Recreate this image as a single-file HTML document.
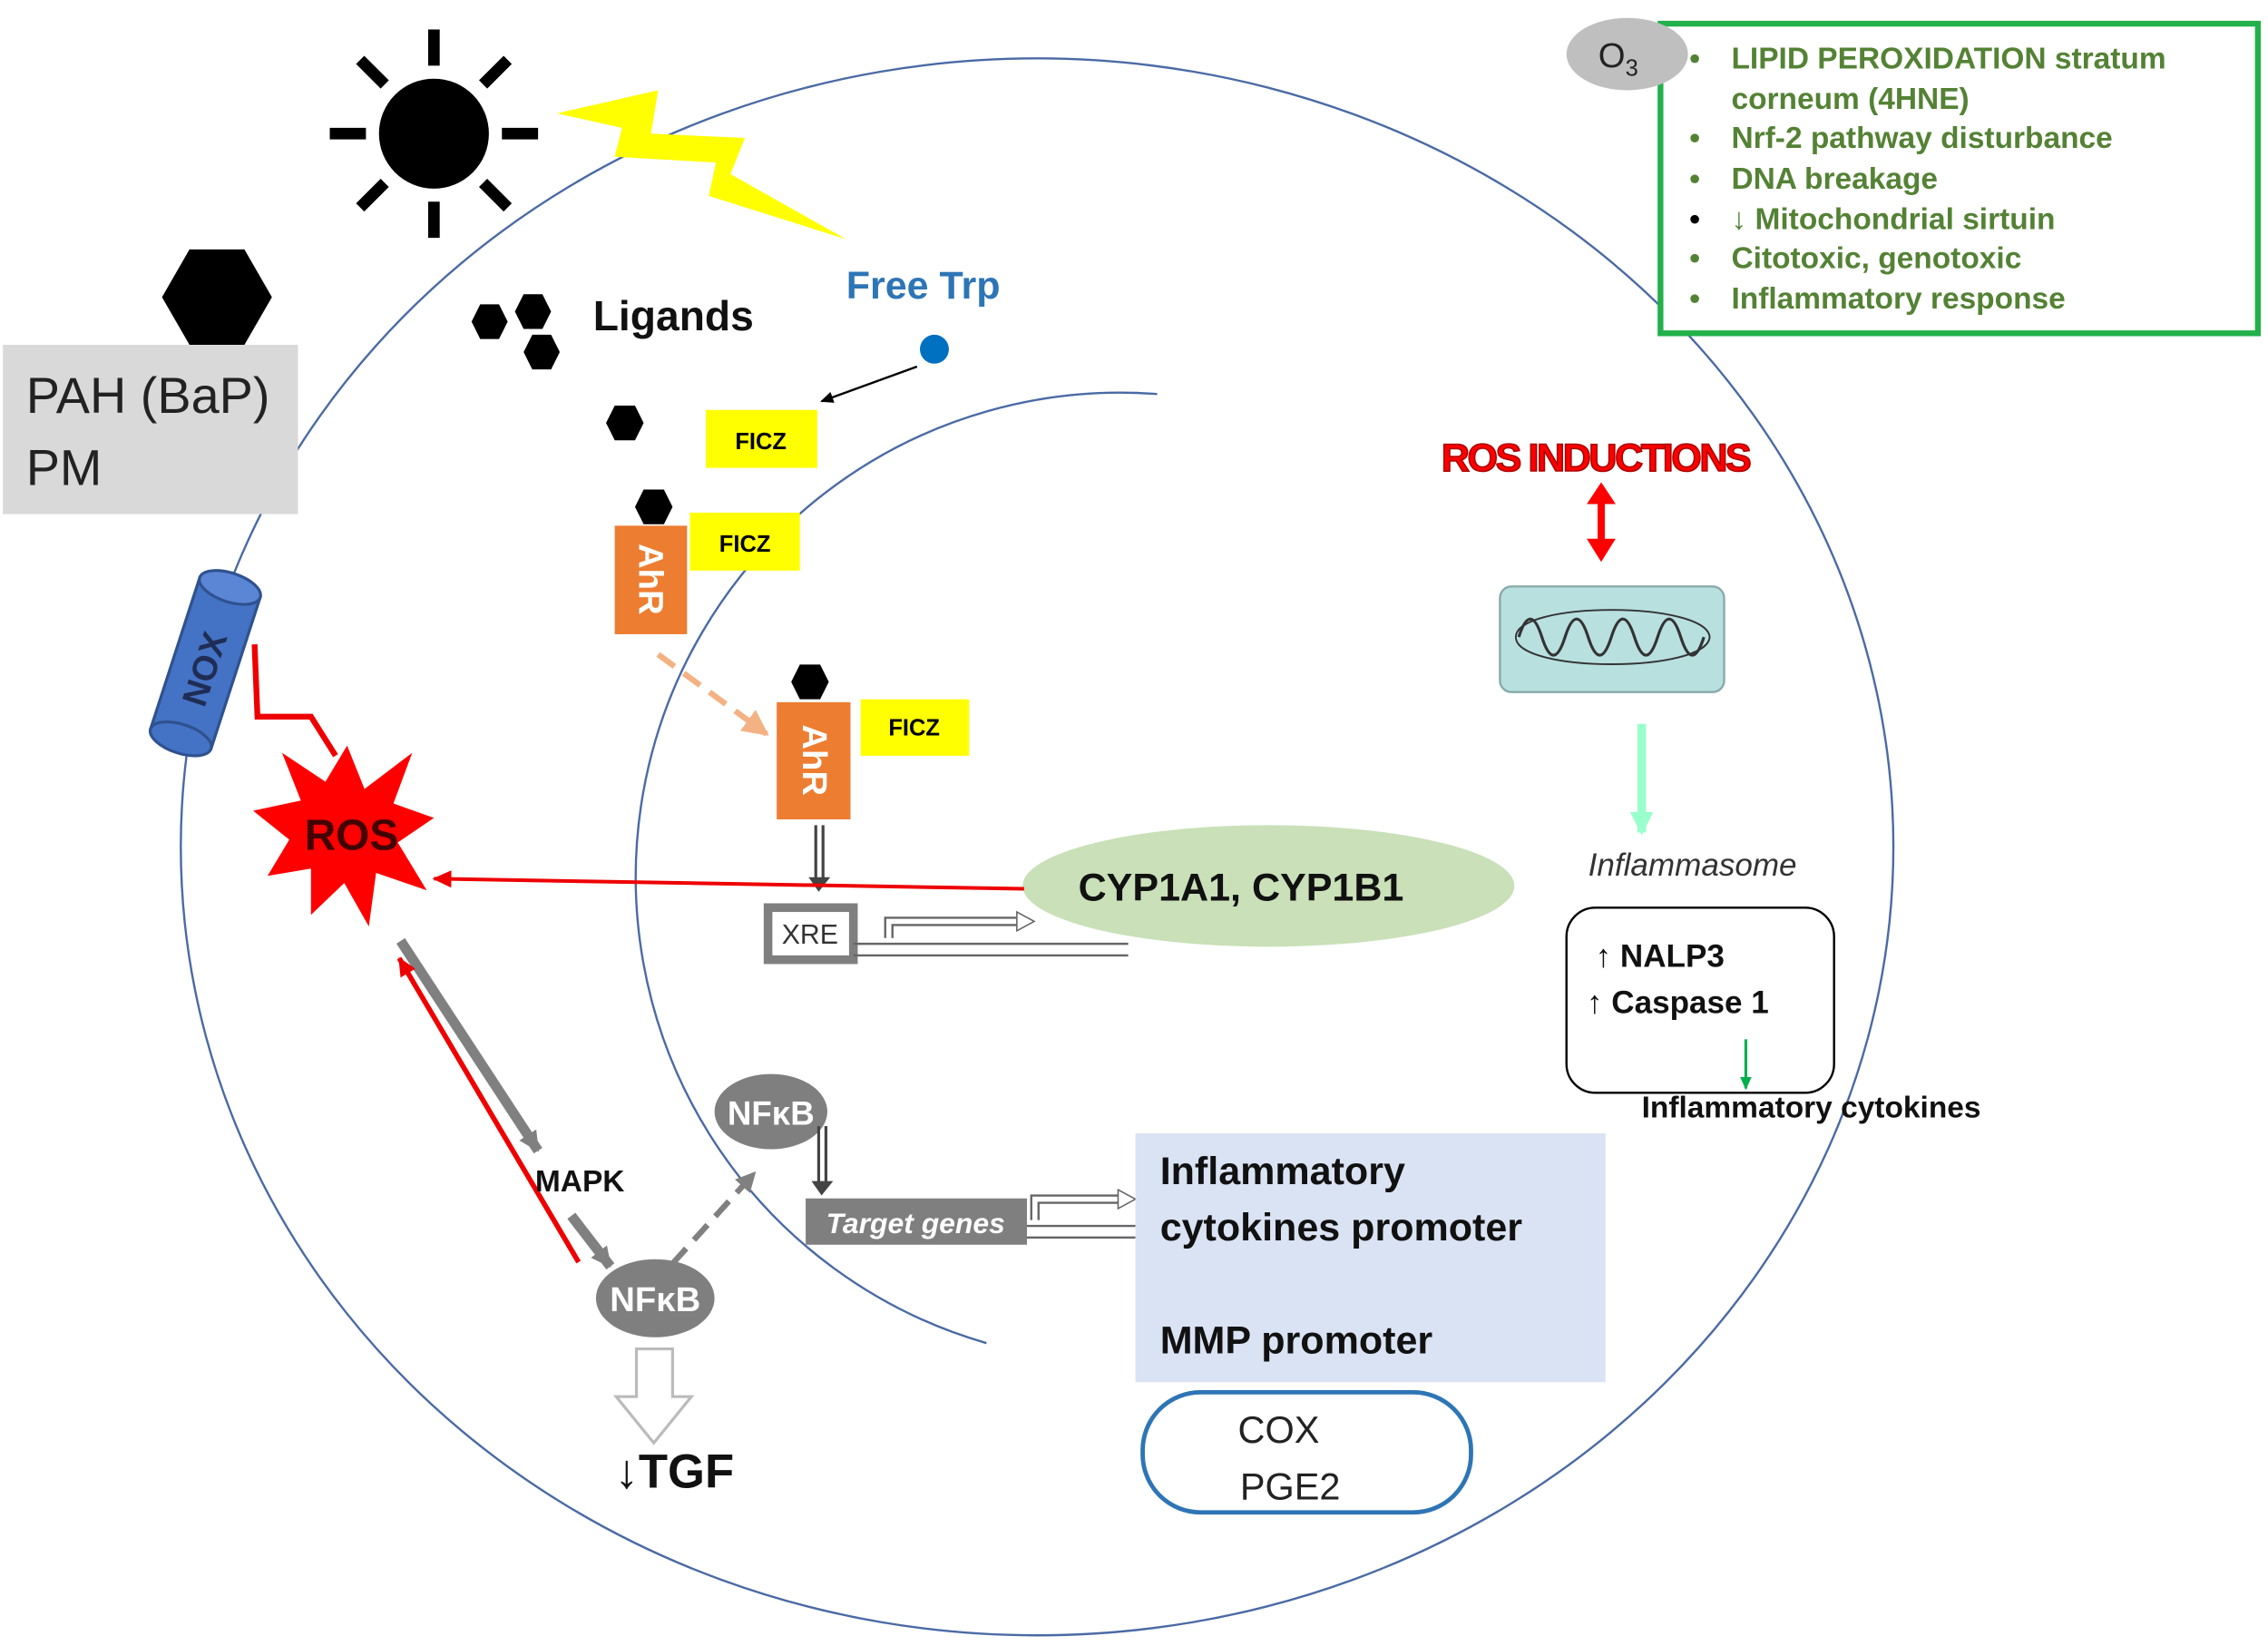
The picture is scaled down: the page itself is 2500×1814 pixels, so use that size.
<!DOCTYPE html>
<html><head><meta charset="utf-8"><style>
html,body{margin:0;padding:0;background:#fff;}
svg{display:block;}
text{font-family:"Liberation Sans","DejaVu Sans",sans-serif;}
</style></head><body>
<svg width="2500" height="1814" viewBox="0 0 1568 1137" xmlns="http://www.w3.org/2000/svg">
<defs>
<marker id="ab" markerWidth="10" markerHeight="10" refX="8" refY="5" orient="auto" markerUnits="userSpaceOnUse"><path d="M0,1 L9,5 L0,9 z" fill="#000"/></marker>
<marker id="ar" markerWidth="14" markerHeight="14" refX="12" refY="7" orient="auto" markerUnits="userSpaceOnUse"><path d="M0,1 L13,7 L0,13 z" fill="#e00"/></marker>
<marker id="ag" markerWidth="16" markerHeight="16" refX="13" refY="8" orient="auto" markerUnits="userSpaceOnUse"><path d="M0,1 L14,8 L0,15 z" fill="#808080"/></marker>
<marker id="ap" markerWidth="20" markerHeight="20" refX="16" refY="10" orient="auto" markerUnits="userSpaceOnUse"><path d="M0,1 L18,10 L0,19 z" fill="#f4b183"/></marker>
<marker id="agr" markerWidth="10" markerHeight="10" refX="8" refY="5" orient="auto" markerUnits="userSpaceOnUse"><path d="M0,1 L9,5 L0,9 z" fill="#00b050"/></marker>
<marker id="alg" markerWidth="18" markerHeight="18" refX="14" refY="9" orient="auto" markerUnits="userSpaceOnUse"><path d="M0,1 L16,9 L0,17 z" fill="#99ffcc"/></marker>
</defs>

<!-- outer cell -->
<ellipse cx="717" cy="585" rx="592" ry="545" fill="none" stroke="#4a6aa5" stroke-width="1.5"/>
<!-- nucleus arc -->
<path d="M800,272 A335 335 0 0 0 682,928" fill="none" stroke="#4a6aa5" stroke-width="1.5"/>

<!-- sun -->
<circle cx="300" cy="92" r="38" fill="#000"/>
<g stroke="#000" stroke-width="8">
<line x1="300" y1="20" x2="300" y2="45"/><line x1="300" y1="139" x2="300" y2="164"/>
<line x1="228" y1="92" x2="253" y2="92"/><line x1="347" y1="92" x2="372" y2="92"/>
<line x1="249" y1="41" x2="266" y2="58"/><line x1="334" y1="126" x2="351" y2="143"/>
<line x1="351" y1="41" x2="334" y2="58"/><line x1="266" y1="126" x2="249" y2="143"/>
</g>
<!-- lightning -->
<polygon points="385,78 455,62 450,92 515,95 505,120 585,165 490,135 495,112 425,108 430,88" fill="#ffff00"/>

<!-- PAH -->
<polygon points="112,205 131,172 169,172 188,205 169,238 131,238" fill="#000"/>
<rect x="2" y="238" width="204" height="117" fill="#d9d9d9"/>
<text x="18" y="285" font-size="35" fill="#222">PAH (BaP)</text>
<text x="18" y="335" font-size="35" fill="#222">PM</text>

<!-- NOX -->
<g transform="translate(142,458) rotate(-72)">
<rect x="-55" y="-22" width="110" height="44" fill="#4472c4" stroke="#2f528f" stroke-width="2"/>
<ellipse cx="55" cy="0" rx="10" ry="22" fill="#5b86d6" stroke="#2f528f" stroke-width="2"/>
<ellipse cx="-55" cy="0" rx="10" ry="22" fill="#4472c4" stroke="#2f528f" stroke-width="2"/>
<text x="-4" y="9" font-size="24" font-weight="bold" text-anchor="middle" fill="#1f2d55">NOX</text>
</g>
<polyline points="176,445 178,495 215,495 232,522" fill="none" stroke="#e00" stroke-width="4"/>

<!-- ROS star -->
<polygon points="240,515 252,545 285,520 272,555 300,565 275,582 295,615 260,603 255,640 238,610 215,632 215,600 185,605 200,580 175,560 208,553 195,520 225,540" fill="#ff0000"/>
<text x="243" y="587" font-size="30" font-weight="bold" text-anchor="middle" fill="#400">ROS</text>

<!-- ligands -->
<polygon points="326,222 332,210 345,210 351,222 345,234 332,234" fill="#000"/>
<polygon points="356,215 362,203 375,203 381,215 375,227 362,227" fill="#000"/>
<polygon points="362,243 368,231 381,231 387,243 381,255 368,255" fill="#000"/>
<text x="410" y="228" font-size="29" font-weight="bold" fill="#111">Ligands</text>
<text x="585" y="206" font-size="27" font-weight="bold" fill="#2e75b6">Free Trp</text>
<circle cx="646" cy="241" r="10" fill="#0070c0"/>
<line x1="634" y1="253" x2="568" y2="277" stroke="#000" stroke-width="1.5" marker-end="url(#ab)"/>

<polygon points="419,292 425,280 439,280 445,292 439,304 425,304" fill="#000"/>
<rect x="488" y="283" width="77" height="40" fill="#ffff00"/>
<text x="526" y="310" font-size="16" font-weight="bold" text-anchor="middle">FICZ</text>

<polygon points="439,350 445,338 459,338 465,350 459,362 445,362" fill="#000"/>
<rect x="425" y="363" width="50" height="75" fill="#ed7d31"/>
<text transform="translate(442,400) rotate(90)" font-size="24" font-weight="bold" text-anchor="middle" fill="#fff">AhR</text>
<rect x="477" y="354" width="76" height="40" fill="#ffff00"/>
<text x="515" y="381" font-size="16" font-weight="bold" text-anchor="middle">FICZ</text>

<line x1="455" y1="452" x2="530" y2="507" stroke="#f4b183" stroke-width="4" stroke-dasharray="14,8" marker-end="url(#ap)"/>

<polygon points="547,471 553,459 567,459 573,471 567,483 553,483" fill="#000"/>
<rect x="537" y="485" width="51" height="81" fill="#ed7d31"/>
<text transform="translate(555,525) rotate(90)" font-size="24" font-weight="bold" text-anchor="middle" fill="#fff">AhR</text>
<rect x="595" y="483" width="75" height="39" fill="#ffff00"/>
<text x="632" y="508" font-size="16" font-weight="bold" text-anchor="middle">FICZ</text>

<!-- down arrow AhR to XRE -->
<line x1="564" y1="570" x2="564" y2="608" stroke="#444" stroke-width="2"/>
<line x1="569" y1="570" x2="569" y2="608" stroke="#444" stroke-width="2"/>
<polygon points="559,606 574,606 566,616" fill="#444"/>

<!-- XRE -->
<rect x="531" y="627" width="59" height="36" fill="#fff" stroke="#7f7f7f" stroke-width="6"/>
<text x="560" y="652" font-size="19" text-anchor="middle" fill="#333">XRE</text>
<line x1="590" y1="652" x2="780" y2="652" stroke="#666" stroke-width="1.5"/>
<line x1="590" y1="660" x2="780" y2="660" stroke="#666" stroke-width="1.5"/>
<path d="M612,648 L612,634 L705,634" fill="none" stroke="#666" stroke-width="1.5"/>
<path d="M617,648 L617,639 L705,639" fill="none" stroke="#666" stroke-width="1.5"/>
<polygon points="703,630 715,636.5 703,643" fill="#fff" stroke="#666"/>

<!-- CYP ellipse -->
<ellipse cx="877" cy="612" rx="170" ry="42" fill="#c9e0b8"/>
<text x="858" y="622" font-size="27" font-weight="bold" text-anchor="middle" fill="#111">CYP1A1, CYP1B1</text>
<line x1="708" y1="614" x2="300" y2="607" stroke="#e00" stroke-width="2.5" marker-end="url(#ar)"/>

<!-- ROS to MAPK -->
<line x1="277" y1="650" x2="372" y2="795" stroke="#808080" stroke-width="7" marker-end="url(#ag)"/>
<line x1="400" y1="872" x2="276" y2="662" stroke="#e00" stroke-width="3.5" marker-end="url(#ar)"/>
<line x1="395" y1="840" x2="422" y2="875" stroke="#808080" stroke-width="7" marker-end="url(#ag)"/>
<text x="370" y="823" font-size="21" font-weight="bold" fill="#111">MAPK</text>

<ellipse cx="453" cy="897" rx="41" ry="27" fill="#7f7f7f"/>
<text x="453" y="906" font-size="24" font-weight="bold" text-anchor="middle" fill="#fff">NFκB</text>
<line x1="465" y1="873" x2="522" y2="810" stroke="#808080" stroke-width="4" stroke-dasharray="14,8" marker-end="url(#ag)"/>
<ellipse cx="533" cy="768" rx="39" ry="26" fill="#7f7f7f"/>
<text x="533" y="777" font-size="23" font-weight="bold" text-anchor="middle" fill="#fff">NFκB</text>

<!-- TGF open arrow -->
<polygon points="440,932 465,932 465,965 478,965 452,997 426,965 440,965" fill="#fff" stroke="#bbb" stroke-width="2"/>
<text x="425" y="1028" font-size="33" font-weight="bold" fill="#111">↓TGF</text>

<!-- target genes -->
<line x1="566" y1="778" x2="566" y2="818" stroke="#444" stroke-width="2"/>
<line x1="571" y1="778" x2="571" y2="818" stroke="#444" stroke-width="2"/>
<polygon points="561,816 576,816 568,826" fill="#444"/>
<rect x="557" y="828" width="153" height="32" fill="#7f7f7f"/>
<text x="633" y="852" font-size="20" font-weight="bold" font-style="italic" text-anchor="middle" fill="#fff">Target genes</text>
<line x1="710" y1="847" x2="785" y2="847" stroke="#666" stroke-width="1.5"/>
<line x1="710" y1="855" x2="785" y2="855" stroke="#666" stroke-width="1.5"/>
<path d="M713,843 L713,826 L775,826" fill="none" stroke="#666" stroke-width="1.5"/>
<path d="M718,843 L718,831 L775,831" fill="none" stroke="#666" stroke-width="1.5"/>
<polygon points="773,822 785,828.5 773,835" fill="#fff" stroke="#666"/>

<rect x="785" y="783" width="325" height="172" fill="#dae3f3"/>
<text x="802" y="818" font-size="27" font-weight="bold" fill="#111">Inflammatory</text>
<text x="802" y="857" font-size="27" font-weight="bold" fill="#111">cytokines promoter</text>
<text x="802" y="935" font-size="27" font-weight="bold" fill="#111">MMP promoter</text>

<rect x="790" y="962" width="227" height="83" rx="40" fill="#fff" stroke="#2e75b6" stroke-width="3"/>
<text x="884" y="997" font-size="26" text-anchor="middle" fill="#222">COX</text>
<text x="892" y="1036" font-size="26" text-anchor="middle" fill="#222">PGE2</text>

<!-- ROS inductions -->
<text x="1103" y="325" font-size="27" font-weight="bold" text-anchor="middle" fill="#ff0000" stroke="#a00" stroke-width="1" letter-spacing="-1.5">ROS INDUCTIONS</text>
<line x1="1107" y1="345" x2="1107" y2="375" stroke="#ff0000" stroke-width="5"/>
<polygon points="1097,348 1117,348 1107,333" fill="#ff0000"/>
<polygon points="1097,372 1117,372 1107,388" fill="#ff0000"/>

<!-- mitochondrion -->
<rect x="1037" y="405" width="155" height="73" rx="8" fill="#b8e0df" stroke="#8aa" stroke-width="1.5"/>
<path d="M1050,440 q8,-25 16,0 q8,25 16,0 q8,-25 16,0 q8,25 16,0 q8,-25 16,0 q8,25 16,0 q8,-25 16,0 q8,25 16,0" fill="none" stroke="#333" stroke-width="2"/>
<path d="M1048,440 C1048,415 1180,415 1182,440 C1180,465 1048,465 1048,440z" fill="none" stroke="#333" stroke-width="1.2"/>

<line x1="1135" y1="500" x2="1135" y2="575" stroke="#99ffcc" stroke-width="6" marker-end="url(#alg)"/>
<text x="1098" y="605" font-size="22" font-style="italic" fill="#333">Inflammasome</text>

<rect x="1083" y="627" width="185" height="128" rx="20" fill="#fff" stroke="#000" stroke-width="1.5"/>
<text x="1103" y="668" font-size="22" font-weight="bold" fill="#111">↑ NALP3</text>
<text x="1097" y="700" font-size="22" font-weight="bold" fill="#111">↑ Caspase 1</text>
<line x1="1207" y1="718" x2="1207" y2="752" stroke="#00b050" stroke-width="2" marker-end="url(#agr)"/>
<text x="1135" y="772" font-size="21" font-weight="bold" fill="#111">Inflammatory cytokines</text>

<!-- O3 box -->
<rect x="1148" y="16" width="413" height="214" fill="#fff" stroke="#22b04b" stroke-width="4"/>
<ellipse cx="1125" cy="37" rx="42" ry="25" fill="#bfbfbf"/>
<text x="1105" y="46" font-size="24" fill="#222">O<tspan font-size="16" dy="6">3</tspan></text>
<g font-size="21" font-weight="bold" fill="#548235">
<text x="1168" y="47">•</text><text x="1197" y="47">LIPID PEROXIDATION stratum</text>
<text x="1197" y="75">corneum (4HNE)</text>
<text x="1168" y="102">•</text><text x="1197" y="102">Nrf-2 pathway disturbance</text>
<text x="1168" y="130">•</text><text x="1197" y="130">DNA breakage</text>
<text x="1168" y="158" fill="#000">•</text><text x="1197" y="158">↓ Mitochondrial sirtuin</text>
<text x="1168" y="185">•</text><text x="1197" y="185">Citotoxic, genotoxic</text>
<text x="1168" y="213">•</text><text x="1197" y="213">Inflammatory response</text>
</g>
</svg>
</body></html>
